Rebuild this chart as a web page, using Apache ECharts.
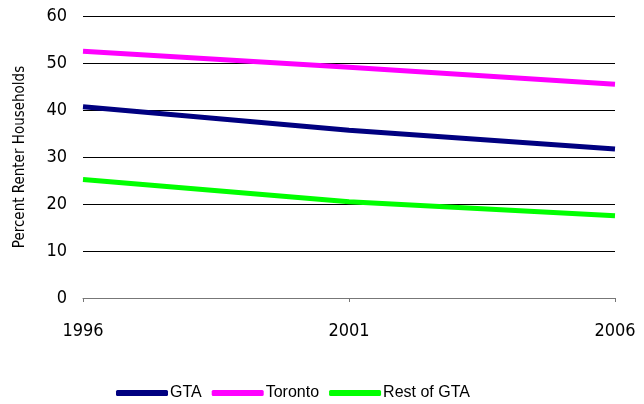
<!DOCTYPE html>
<html>
<head>
<meta charset="utf-8">
<script src="https://cdn.jsdelivr.net/npm/echarts@6/dist/echarts.min.js"></script>
<style>
  html, body { margin: 0; padding: 0; background: #fff; }
  #main { width: 644px; height: 404px; }
</style>
</head>
<body>
<div id="main"></div>
<script>
// data
const years = ['1996', '2001', '2006'];
const gta = [40.7, 35.7, 31.7];
const toronto = [52.5, 49.1, 45.5];
const restOfGta = [25.2, 20.5, 17.5];
const yTicks = [0, 10, 20, 30, 40, 50, 60];

const narrow = "'Liberation Sans Narrow', 'DejaVu Sans Condensed', sans-serif";

const chart = echarts.init(document.getElementById('main'));
chart.setOption({
  animation: false,
  grid: { left: 83, right: 29, top: 16, bottom: 106 },
  legend: {
    left: 111,
    top: 380,
    itemWidth: 52,
    itemHeight: 6,
    itemGap: 10,
    icon: 'roundRect',
    textStyle: { fontFamily: "'Liberation Sans', Arial, sans-serif", fontSize: 16, color: '#000', padding: [0, 0, 0, -3] },
    data: ['GTA', 'Toronto', 'Rest of GTA']
  },
  xAxis: {
    type: 'category',
    boundaryGap: false,
    data: years,
    axisLine: { lineStyle: { color: '#777', width: 1 } },
    axisTick: { show: true, length: 4, lineStyle: { color: '#777' } },
    axisLabel: { fontFamily: narrow, fontSize: 18, color: '#000', margin: 24 }
  },
  yAxis: {
    type: 'value',
    min: yTicks[0],
    max: yTicks[yTicks.length - 1],
    interval: 10,
    name: 'Percent Renter Households',
    nameLocation: 'middle',
    nameRotate: 90,
    nameGap: 55,
    nameTextStyle: { fontFamily: narrow, fontSize: 15, color: '#000' },
    axisLine: { show: false },
    axisTick: { show: false },
    axisLabel: { fontFamily: narrow, fontSize: 18, color: '#000', margin: 16 },
    splitLine: { lineStyle: { color: '#000', width: 1 } }
  },
  series: [
    { name: 'GTA', type: 'line', data: gta, symbol: 'none', lineStyle: { width: 5, color: '#000080' }, itemStyle: { color: '#000080' } },
    { name: 'Toronto', type: 'line', data: toronto, symbol: 'none', lineStyle: { width: 5, color: '#ff00ff' }, itemStyle: { color: '#ff00ff' } },
    { name: 'Rest of GTA', type: 'line', data: restOfGta, symbol: 'none', lineStyle: { width: 5, color: '#00ff00' }, itemStyle: { color: '#00ff00' } }
  ]
});
</script>
</body>
</html>
